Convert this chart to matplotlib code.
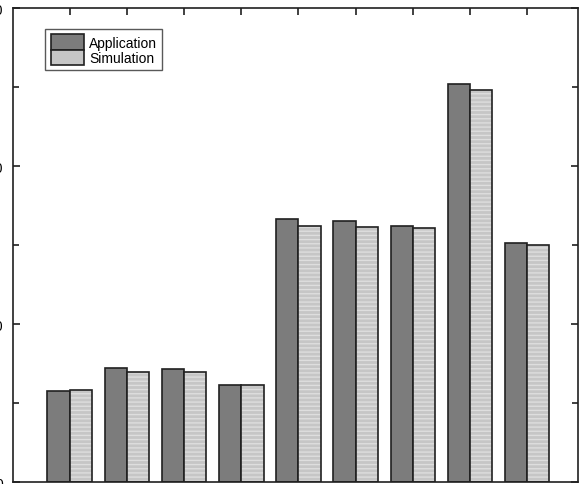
import numpy as np
import matplotlib.pyplot as plt
from matplotlib.ticker import MultipleLocator
from matplotlib.patches import Patch

plt.rcParams['font.family'] = ['Liberation Sans', 'DejaVu Sans']

groups = [1, 2, 3, 4, 5, 6, 7, 8, 9]
application = [11.5, 14.4, 14.3, 12.3, 33.3, 33.1, 32.4, 50.4, 30.3]
simulation = [11.6, 13.9, 13.9, 12.3, 32.4, 32.3, 32.2, 49.6, 30.0]
yticks = [0, 20, 40, 60]

fig = plt.figure(figsize=(5.85, 4.85), dpi=100)
ax = fig.add_axes([0.0214, 0.0041, 0.9658, 0.9773])

x = np.array(groups)
w = 0.39
dark = '#7c7c7c'
light = '#c6c6c6'
edge = '#202020'

ax.bar(x - w / 2, application, w, color=dark, edgecolor=edge, linewidth=1.2, zorder=2)
# hatched light bars: hatch drawn in a lighter grey, outline drawn on top in black
ax.bar(x + w / 2, simulation, w, color=light, edgecolor='#dedede', hatch='----',
       linewidth=0, zorder=2)
ax.bar(x + w / 2, simulation, w, color='none', edgecolor=edge, linewidth=1.2, zorder=3)

ax.set_xlim(0, 9.88)
ax.set_ylim(0, 60)
ax.set_xticks(groups)
ax.set_xticklabels([])
ax.set_yticks(yticks)
ax.yaxis.set_minor_locator(MultipleLocator(10))
ax.tick_params(which='both', direction='in', top=True, right=True, length=5,
               width=1.2, color='#202020', labelsize=10, pad=7)
ax.tick_params(which='minor', length=4)
for s in ax.spines.values():
    s.set_linewidth(1.2)
    s.set_color('#202020')

handles = [Patch(facecolor=dark, edgecolor=edge, linewidth=1.2),
           Patch(facecolor=light, edgecolor=edge, linewidth=1.2)]
leg = ax.legend(handles, ['Application', 'Simulation'], loc='upper left',
                bbox_to_anchor=(0.0575, 0.956), fontsize=10, frameon=True,
                fancybox=False, edgecolor='#303030', handlelength=2.4,
                handleheight=1.3, labelspacing=0, handletextpad=0.36,
                borderpad=0.4, borderaxespad=0)
leg.get_frame().set_linewidth(1.0)

fig.savefig('out.png', dpi=100)
